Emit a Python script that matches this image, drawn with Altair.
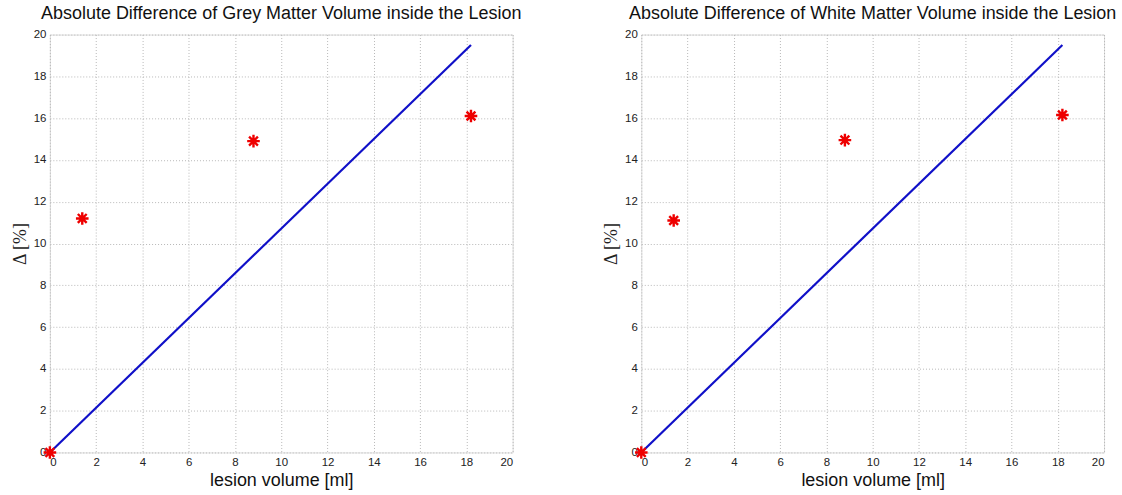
import altair as alt
import pandas as pd

# Data
grey_x = [0.0, 1.4, 8.8, 18.2]
grey_y = [0.0, 11.2, 14.9, 16.1]
white_x = [0.0, 1.4, 8.8, 18.2]
white_y = [0.0, 11.1, 14.95, 16.15]
line_x = [0.0, 18.2]
line_y = [0.0, 19.5]
ticks = [0, 2, 4, 6, 8, 10, 12, 14, 16, 18, 20]

titles = [
    "Absolute Difference of Grey Matter Volume inside the Lesion",
    "Absolute Difference of White Matter Volume inside the Lesion",
]

STAR = "M-1,0L1,0M0,-1L0,1M-0.7,-0.7L0.7,0.7M-0.7,0.7L0.7,-0.7"


def panel(px, py, title):
    pts = pd.DataFrame({"x": px, "y": py})
    ln = pd.DataFrame({"x": line_x, "y": line_y})
    xs = alt.Scale(domain=[0, 20], nice=False, zero=False)
    ys = alt.Scale(domain=[0, 20], nice=False, zero=False)
    xaxis = alt.Axis(values=ticks, format="d", title="lesion volume [ml]",
                     titleFont="Liberation Sans", titleFontSize=18,
                     titleFontWeight="normal", titleColor="#111",
                     titlePadding=4, labelFont="Liberation Sans",
                     labelFontSize=11.5, labelColor="#222", labelPadding=4,
                     tickSize=0, domain=False, grid=True,
                     gridColor="#b8b8b8", gridDash=[1, 2], gridWidth=1)
    yaxis = alt.Axis(values=ticks, format="d", title="Δ [%]",
                     titleFont="Liberation Serif", titleFontSize=18,
                     titleFontWeight="normal", titleColor="#222",
                     titlePadding=4, labelFont="Liberation Sans",
                     labelFontSize=11.5, labelColor="#222", labelPadding=4,
                     tickSize=0, domain=False, grid=True,
                     gridColor="#b8b8b8", gridDash=[1, 2], gridWidth=1)
    line = alt.Chart(ln).mark_line(color="#1010c8", strokeWidth=2.2).encode(
        x=alt.X("x:Q", scale=xs, axis=xaxis),
        y=alt.Y("y:Q", scale=ys, axis=yaxis),
    )
    stars = alt.Chart(pts).mark_point(
        shape=STAR, filled=False, stroke="#ee0000", fill="transparent",
        strokeWidth=2.4, size=160, opacity=1,
    ).encode(x="x:Q", y="y:Q")
    return alt.layer(line, stars).properties(
        width=464, height=419,
        title=alt.TitleParams(title, font="Liberation Sans", fontSize=18,
                              fontWeight="normal", color="#111", offset=6,
                              anchor="middle"),
    )


chart = alt.hconcat(
    panel(grey_x, grey_y, titles[0]),
    panel(white_x, white_y, titles[1]),
    spacing=79,
).properties(
    padding={"left": 10, "top": 3, "right": 5, "bottom": 2},
).configure_view(stroke="#555555", strokeWidth=1).configure(
    background="white"
)

chart.save("out.html", embed_options={"renderer": "svg", "actions": False})
